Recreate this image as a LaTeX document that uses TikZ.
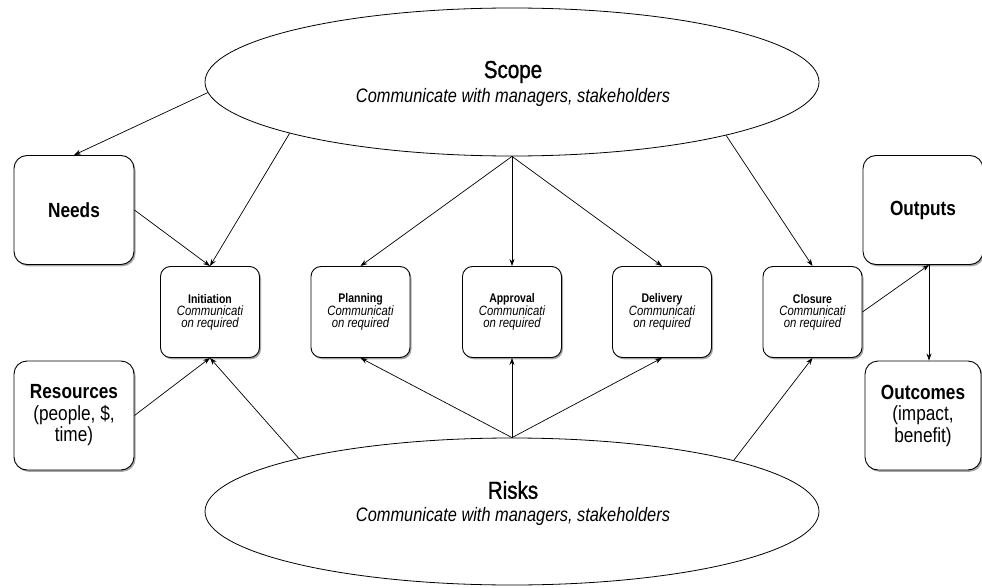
\documentclass[tikz,border=0pt]{standalone}
\usepackage{fontspec}
\setmainfont{Liberation Sans}[FakeStretch=0.84]
\newfontfamily\medfont{Liberation Sans}[FakeStretch=0.84,FakeBold=1.2]
\usetikzlibrary{shapes.geometric,shadows,arrows.meta}
\begin{document}
\begin{tikzpicture}[x=1pt,y=-1pt,
  shad/.style={drop shadow={shadow xshift=1.5pt,shadow yshift=-1.8pt,opacity=0.35,fill=black}},
  bigbox/.style={draw=black,line width=0.9pt,fill=white,rounded corners=13pt,minimum width=120pt,minimum height=109pt,inner sep=0pt,align=center,font=\fontsize{20.5}{21.5}\selectfont,shad},
  smallbox/.style={draw=black,line width=0.9pt,fill=white,rounded corners=10pt,minimum width=99pt,minimum height=91pt,inner sep=0pt,align=center,shad},
  oval/.style={draw=black,line width=0.8pt,fill=white,ellipse,minimum width=614pt,inner sep=0pt},
  ttl/.style={font=\fontsize{24.5}{28}\medfont},
  sub/.style={font=\fontsize{19.5}{24}\selectfont\itshape},
  arr/.style={-{Stealth[length=7pt,width=5pt]},line width=0.7pt}
]
\useasboundingbox (0,0) rectangle (982,588);
% ellipses
\node[oval,minimum height=148pt] (scope) at (512,82) {};
\node[ttl] (scopeT) at (513,72) {Scope};
\node[sub] (scopeS) at (513,97) {Communicate with managers, stakeholders};
\node[oval,minimum height=147pt] (risks) at (512,511.5) {};
\node[ttl] (risksT) at (513,490) {Risks};
\node[sub] (risksS) at (513,516) {Communicate with managers, stakeholders};
% big boxes
\node[bigbox] (needs) at (74,210) {\bfseries Needs};
\node[bigbox] (outputs) at (923,210) {\bfseries Outputs};
\node[bigbox] (res) at (74,415.5) {\bfseries Resources\\(people, \$,\\time)};
\node[bigbox,minimum width=116pt] (outc) at (923,415.5) {\bfseries Outcomes\\(impact,\\benefit)};
% small boxes
\foreach \n/\t/\x in {init/Initiation/210,plan/Planning/360.5,appr/Approval/512,deli/Delivery/662,clos/Closure/812.5}{
  \node[smallbox] (\n) at (\x,312) {{\fontsize{12.5}{16}\selectfont\bfseries \t}\\{\fontsize{13.5}{16}\selectfont\itshape Communicati}\\{\fontsize{13.5}{16}\selectfont\itshape on required}};
}
% arrows from scope
\draw[arr] (scope.182) -- (needs.north);
\draw[arr] (scope.193.4) -- (init.north);
\draw[arr] (needs.east) -- (init.north);
\draw[arr] (scope.south) -- (plan.north);
\draw[arr] (scope.south) -- (appr.north);
\draw[arr] (scope.south) -- (deli.north);
\draw[arr] (scope.346.6) -- (clos.north);
% arrows from risks
\draw[arr] (risks.166.6) -- (init.south);
\draw[arr] (res.east) -- (init.south);
\draw[arr] (risks.north) -- (plan.south);
\draw[arr] (risks.north) -- (appr.south);
\draw[arr] (risks.north) -- (deli.south);
\draw[arr] (risks.13.4) -- (clos.south);
% right side
\draw[arr] (clos.east) -- ([xshift=6pt]outputs.south);
\draw[arr] ([xshift=6pt]outputs.south) -- ([xshift=6pt]outc.north);
\end{tikzpicture}
\end{document}
